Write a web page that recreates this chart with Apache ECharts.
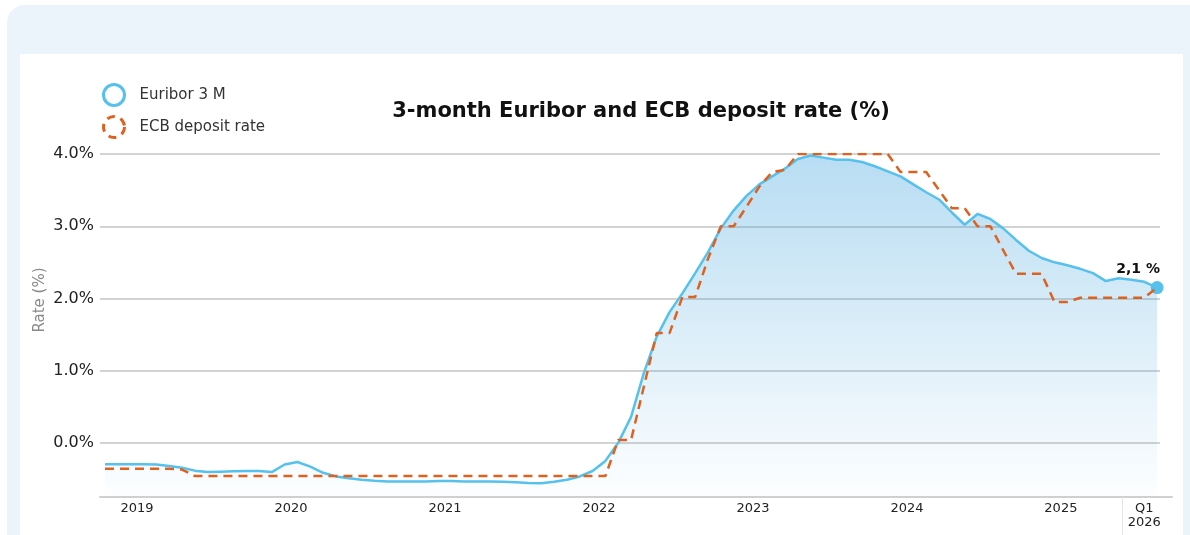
<!DOCTYPE html>
<html>
<head>
<meta charset="utf-8">
<title>3-month Euribor and ECB deposit rate</title>
<script src="https://cdn.jsdelivr.net/npm/echarts@6/dist/echarts.min.js"></script>
<style>
    body { margin: 0; background: #fff; overflow: hidden; }
    #panel { position: absolute; left: 7px; top: 5px; width: 1220px; height: 600px; background: #ebf4fb; border-radius: 18px; }
    #card { position: absolute; left: 20px; top: 54px; width: 1163px; height: 600px; background: #fff; }
    #chart { position: absolute; left: 0; top: 0; width: 1190px; height: 535px; }
</style>
</head>
<body>
<div id="panel"></div>
<div id="card"></div>
<div id="chart"></div>
<script>
// monthly values, Apr 2019 (month 0) .. Feb 2026 (month 82)
var euribor3m = [
    -0.295, -0.295, -0.295, -0.295, -0.30, -0.32, -0.345, -0.385, -0.405,          // 2019
    -0.40, -0.395, -0.39, -0.39, -0.405, -0.30, -0.265, -0.33, -0.415, -0.465, -0.49, -0.51, // 2020
    -0.525, -0.535, -0.535, -0.535, -0.535, -0.53, -0.53, -0.535, -0.535, -0.535, -0.54, -0.545, // 2021
    -0.555, -0.56, -0.54, -0.51, -0.465, -0.39, -0.25, 0.0, 0.36, 0.97, 1.47, 1.81, // 2022
    2.07, 2.35, 2.64, 2.97, 3.22, 3.42, 3.58, 3.69, 3.80, 3.93, 3.98, 3.95,          // 2023
    3.92, 3.92, 3.89, 3.83, 3.76, 3.69, 3.58, 3.47, 3.37, 3.19, 3.02, 3.17,          // 2024
    3.10, 2.97, 2.81, 2.66, 2.56, 2.50, 2.46, 2.41, 2.35, 2.24, 2.28, 2.26,          // 2025
    2.23, 2.15                                                                      // 2026
];
var ecbDeposit = [
    -0.36, -0.36, -0.36, -0.36, -0.36, -0.36, -0.37, -0.46, -0.46,
    -0.46, -0.46, -0.46, -0.46, -0.46, -0.46, -0.46, -0.46, -0.46, -0.46, -0.46, -0.46,
    -0.46, -0.46, -0.46, -0.46, -0.46, -0.46, -0.46, -0.46, -0.46, -0.46, -0.46, -0.46,
    -0.46, -0.46, -0.46, -0.46, -0.46, -0.46, -0.46, 0.04, 0.04, 0.78, 1.52, 1.52,
    2.02, 2.02, 2.55, 3.0, 3.0, 3.27, 3.55, 3.75, 3.78, 4.0, 4.0, 4.0,
    4.0, 4.0, 4.0, 4.0, 4.0, 3.75, 3.75, 3.75, 3.5, 3.25, 3.25, 3.0,
    3.0, 2.67, 2.34, 2.34, 2.34, 1.95, 1.95, 2.01, 2.01, 2.01, 2.01, 2.01,
    2.01, 2.15
];
// x tick positions in months since Apr 2019 (mid-year, and mid-Jan 2026)
var tickMonths = [2.5, 14.5, 26.5, 38.5, 50.5, 62.5, 74.5, 81];
var tickLabels = ['2019', '2020', '2021', '2022', '2023', '2024', '2025', 'Q1\n2026'];
var yTicks = [0, 1, 2, 3, 4];

var blue = '#56c1ec';
var orange = '#dd6220';
var font = 'DejaVu Sans';

function xLabel(v) {
    var i = tickMonths.indexOf(v);
    return i >= 0 ? tickLabels[i] : '';
}

var euriborData = euribor3m.map(function (v, i) { return [i, v]; });
var ecbData = ecbDeposit.map(function (v, i) { return [i, v]; });

// last point gets the dot and value label
var last = euriborData.length - 1;
euriborData[last] = {
    value: euriborData[last],
    symbol: 'circle',
    symbolSize: 13,
    itemStyle: { color: blue },
    label: {
        show: true,
        position: 'top',
        distance: 5,
        offset: [-19, 0],
        fontFamily: font,
        fontSize: 14,
        fontWeight: 'bold',
        color: '#111',
        formatter: function (p) {
            return (Math.floor(p.value[1] * 10) / 10).toFixed(1).replace('.', ',') + ' %';
        }
    }
};

var chart = echarts.init(document.getElementById('chart'));
var option = {
    animation: false,
    textStyle: { fontFamily: font },
    title: {
        text: '3-month Euribor and ECB deposit rate (%)',
        left: 641,
        top: 101,
        padding: 0,
        textAlign: 'center',
        textStyle: { fontFamily: font, fontSize: 21, fontWeight: 'bold', color: '#111' }
    },
    legend: {
        orient: 'vertical',
        left: 102,
        top: 83,
        padding: 0,
        itemWidth: 21,
        itemHeight: 21,
        itemGap: 8,
        textStyle: { fontFamily: font, fontSize: 15, color: '#333', padding: [0, 0, 0, 10] },
        data: [
            { name: 'Euribor 3 M', icon: 'circle',
              itemStyle: { color: 'transparent', borderColor: blue, borderWidth: 3 } },
            { name: 'ECB deposit rate', icon: 'circle',
              itemStyle: { color: 'transparent', borderColor: orange, borderWidth: 3, borderType: [8, 6] } }
        ]
    },
    graphic: [{
        type: 'text',
        x: 40,
        y: 300,
        rotation: Math.PI / 2,
        style: { text: 'Rate (%)', align: 'center', verticalAlign: 'middle', fill: '#8a8a8a', font: '15px "DejaVu Sans"' }
    }],
    grid: [
        { left: 100, right: 18, top: 154, bottom: 38 },
        { left: 100, right: 30, top: 154, bottom: 92 }
    ],
    xAxis: [{
        type: 'value',
        gridIndex: 0,
        min: -0.39,
        max: 83.16,
        axisLine: { show: true, onZero: false, lineStyle: { color: '#d0d0d0', width: 2 } },
        axisTick: { show: true, customValues: [79.3], length: 38, lineStyle: { color: '#e4e4e4', width: 1 } },
        splitLine: { show: false },
        axisLabel: {
            customValues: tickMonths,
            formatter: xLabel,
            color: '#222',
            fontFamily: font,
            fontSize: 13,
            lineHeight: 14,
            margin: 5,
            hideOverlap: false
        }
    }, {
        type: 'value',
        gridIndex: 1,
        min: 0,
        max: 1,
        show: false
    }],
    yAxis: [{
        type: 'value',
        gridIndex: 0,
        min: -0.75,
        max: 4,
        axisLine: { show: false },
        axisTick: { show: false },
        axisLabel: { show: false },
        splitLine: { show: false }
    }, {
        type: 'value',
        gridIndex: 1,
        min: 0,
        max: 4,
        interval: 1,
        axisLine: { show: false },
        axisTick: { show: false },
        splitLine: { show: true, lineStyle: { color: '#d3d3d3', width: 2 } },
        axisLabel: {
            formatter: function (v) { return yTicks.indexOf(v) >= 0 ? v.toFixed(1) + '%' : ''; },
            color: '#222',
            fontFamily: font,
            fontSize: 16,
            margin: 6
        }
    }],
    series: [{
        name: 'Euribor 3 M',
        type: 'line',
        xAxisIndex: 0,
        yAxisIndex: 0,
        symbol: 'none',
        showSymbol: true,
        z: 3,
        lineStyle: { color: blue, width: 2.5 },
        itemStyle: { color: blue },
        areaStyle: {
            origin: 'start',
            opacity: 1,
            color: new echarts.graphic.LinearGradient(0, 0, 0, 1, [
                { offset: 0, color: 'rgba(58,160,220,0.36)' },
                { offset: 1, color: 'rgba(58,160,220,0.01)' }
            ])
        },
        data: euriborData
    }, {
        name: 'ECB deposit rate',
        type: 'line',
        xAxisIndex: 0,
        yAxisIndex: 0,
        symbol: 'none',
        z: 4,
        lineStyle: { color: orange, width: 2.5, type: [9, 6] },
        itemStyle: { color: orange },
        data: ecbData
    }]
};
chart.setOption(option);
</script>
</body>
</html>
